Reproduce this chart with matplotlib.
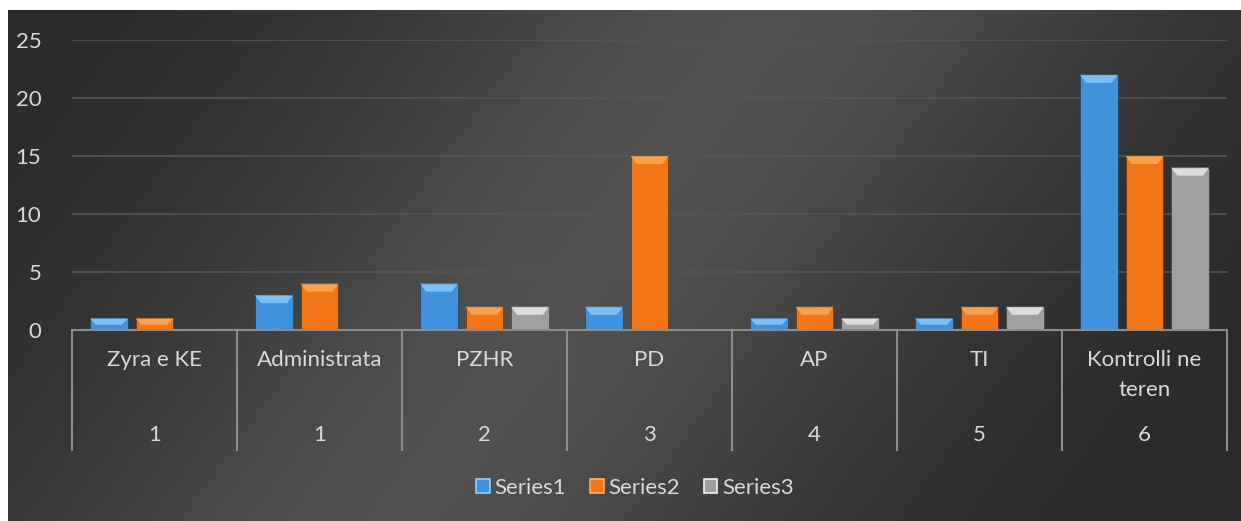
import numpy as np
import matplotlib.pyplot as plt
from matplotlib.patches import Polygon, Patch
from matplotlib.transforms import blended_transform_factory

plt.rcParams['font.family'] = ['Lato', 'DejaVu Sans']

# data
categories = ['Zyra e KE', 'Administrata', 'PZHR', 'PD', 'AP', 'TI', 'Kontrolli ne\nteren']
group_labels = ['1', '1', '2', '3', '4', '5', '6']
series1 = [1, 3, 4, 2, 1, 1, 22]
series2 = [1, 4, 2, 15, 2, 2, 15]
series3 = [0, 0, 2, 0, 1, 2, 14]
series_names = ['Series1', 'Series2', 'Series3']
colors = ['#4092dc', '#f27616', '#a0a0a0']
tops = ['#8fd0ff', '#ffb060', '#f2f2f2']
text_col = '#d9d9d9'

W, H = 1241, 521
fig = plt.figure(figsize=(W / 100, H / 100), dpi=100)
fig.patch.set_facecolor('white')

# dark gradient background
bg = fig.add_axes([8 / W, 0, 1 - 8 / W, 1 - 10 / H])
gx = np.linspace(0, 1, 400)
gy = np.linspace(0, 1, 200)
X, Y = np.meshgrid(gx, gy)
d = (X - 0.47 + (Y - 0.5) * 0.3)
val = 0.165 + 0.15 * np.exp(-(d / 0.32) ** 2)
bg.imshow(np.dstack([val, val, val]), aspect='auto', extent=[0, 1, 0, 1])
bg.set_axis_off()

ax = fig.add_axes([72 / W, (H - 330) / H, (1227 - 72) / W, 290 / H])
ax.set_facecolor('none')
n = len(categories)
x = np.arange(n)
bw = 0.23
step = 0.276
ax.set_xlim(-0.5, n - 0.5)
ax.set_ylim(0, 25)

px_y = 25 / 290.0
px_x = 1 / 165.0
for i, vals in enumerate([series1, series2, series3]):
    pos = x + (i - 1) * step
    bars = ax.bar(pos, vals, width=bw, color=colors[i], edgecolor='#00000055',
                  linewidth=0.6, zorder=3)
    for b in bars:
        h = b.get_height()
        if h <= 0:
            continue
        x0 = b.get_x()
        x1 = x0 + b.get_width()
        bh = min(8 * px_y, h * 0.55)
        bx = 6 * px_x
        ax.add_patch(Polygon([(x0, h), (x1, h), (x1 - bx, h - bh), (x0 + bx, h - bh)],
                             closed=True, facecolor=tops[i], edgecolor='none',
                             alpha=0.75, zorder=4))

ax.set_yticks([0, 5, 10, 15, 20, 25])
ax.tick_params(axis='y', length=0, labelsize=16, labelcolor=text_col, pad=22)
ax.set_xticks([])
for s in ax.spines.values():
    s.set_visible(False)
for yv in [5, 10, 15, 20, 25]:
    ax.axhline(yv, color='#545454', linewidth=1.2, zorder=1)
ax.axhline(0, color='#8c8c8c', linewidth=1.5, zorder=5, clip_on=False)

# multi-level category axis
tr = blended_transform_factory(ax.transData, ax.transAxes)
for b in np.arange(n + 1) - 0.5:
    ax.plot([b, b], [0, -120 / 290], transform=tr, color='#8c8c8c',
            linewidth=1.5, clip_on=False)
for i in range(n):
    ax.text(x[i], -20 / 290, categories[i], transform=tr, ha='center', va='top',
            fontsize=16, color=text_col, linespacing=1.6)
    ax.text(x[i], -105 / 290, group_labels[i], transform=tr, ha='center',
            va='center', fontsize=16, color=text_col)

handles = [Patch(facecolor=colors[i], edgecolor=tops[i], linewidth=1.2)
           for i in range(3)]
leg = fig.legend(handles, series_names, loc='center', bbox_to_anchor=(635 / W, 1 - 488 / H),
                 ncol=3, frameon=False, fontsize=16, handlelength=0.6,
                 handleheight=0.6, handletextpad=0.2, columnspacing=1.1)
for t in leg.get_texts():
    t.set_color(text_col)

fig.savefig('out.png', dpi=100, facecolor='white')
